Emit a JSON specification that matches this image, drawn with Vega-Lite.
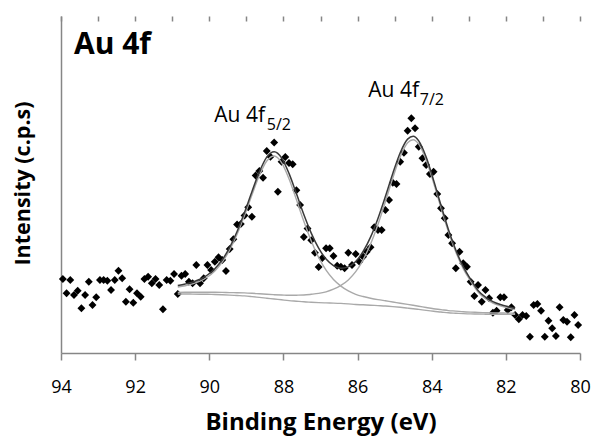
{
  "$schema": "https://vega.github.io/schema/vega-lite/v6.json",
  "width": 519,
  "height": 337,
  "autosize": {"type": "none"},
  "padding": {"left": 61, "top": 16, "right": 12, "bottom": 84},
  "background": "white",
  "config": {"view": {"stroke": null}, "font": "Open Sans"},
  "datasets": {
    "pts": [
      {"E":93.95,"I":74},{"E":93.85,"I":59.7},{"E":93.75,"I":73},{"E":93.65,"I":58},{"E":93.55,"I":62.3},
      {"E":93.45,"I":44.7},{"E":93.35,"I":58},{"E":93.25,"I":71.3},{"E":93.15,"I":48},{"E":93.05,"I":55.7},
      {"E":92.95,"I":73},{"E":92.85,"I":73},{"E":92.75,"I":72.3},{"E":92.65,"I":63},{"E":92.55,"I":73},
      {"E":92.45,"I":82.3},{"E":92.35,"I":74.7},{"E":92.25,"I":51.3},{"E":92.15,"I":63.7},{"E":92.05,"I":50.3},
      {"E":91.95,"I":59.7},{"E":91.85,"I":56.3},{"E":91.75,"I":74},{"E":91.65,"I":76.3},{"E":91.55,"I":69.7},
      {"E":91.45,"I":74},{"E":91.35,"I":68},{"E":91.25,"I":43.7},{"E":91.15,"I":73},{"E":91.05,"I":72.3},
      {"E":90.95,"I":79},{"E":90.85,"I":59},{"E":90.75,"I":77.3},{"E":90.65,"I":79},{"E":90.55,"I":71.3},
      {"E":90.45,"I":69.7},{"E":90.35,"I":88},{"E":90.25,"I":69.7},{"E":90.15,"I":74.7},{"E":90.05,"I":88},
      {"E":89.95,"I":83},{"E":89.85,"I":91.3},{"E":89.75,"I":95.7},{"E":89.65,"I":93},{"E":89.55,"I":82},
      {"E":89.45,"I":104},{"E":89.35,"I":113.7},{"E":89.25,"I":128.5},{"E":89.15,"I":129},{"E":89.05,"I":137.5},
      {"E":88.95,"I":145.7},{"E":88.85,"I":136.3},{"E":88.75,"I":177.5},{"E":88.65,"I":182},{"E":88.55,"I":175.3},
      {"E":88.45,"I":202},{"E":88.35,"I":196.3},{"E":88.25,"I":210.5},{"E":88.15,"I":161.3},{"E":88.05,"I":191.3},
      {"E":87.95,"I":196},{"E":87.85,"I":190},{"E":87.75,"I":188.7},{"E":87.65,"I":162.7},{"E":87.55,"I":148},
      {"E":87.45,"I":116},{"E":87.35,"I":124.5},{"E":87.25,"I":112.7},{"E":87.15,"I":100.3},{"E":87.05,"I":86},
      {"E":86.95,"I":95},{"E":86.85,"I":104.7},{"E":86.75,"I":104.7},{"E":86.65,"I":97},{"E":86.55,"I":87.3},
      {"E":86.45,"I":86.3},{"E":86.35,"I":84.7},{"E":86.25,"I":100.3},{"E":86.15,"I":88},{"E":86.05,"I":99},
      {"E":85.95,"I":91.3},{"E":85.85,"I":96.3},{"E":85.75,"I":101.3},{"E":85.65,"I":105.7},{"E":85.55,"I":125.7},
      {"E":85.45,"I":123},{"E":85.35,"I":123},{"E":85.25,"I":143},{"E":85.15,"I":153},{"E":85.05,"I":170.3},
      {"E":84.95,"I":169},{"E":84.85,"I":191.3},{"E":84.75,"I":200.3},{"E":84.65,"I":222.3},{"E":84.55,"I":234.7},
      {"E":84.45,"I":224.7},{"E":84.35,"I":206.3},{"E":84.25,"I":194.7},{"E":84.15,"I":188},{"E":84.05,"I":179},
      {"E":83.95,"I":181.3},{"E":83.85,"I":159},{"E":83.75,"I":144.7},{"E":83.65,"I":134.7},{"E":83.55,"I":118},
      {"E":83.45,"I":109.7},{"E":83.35,"I":84.7},{"E":83.25,"I":101.3},{"E":83.15,"I":89.7},{"E":83.05,"I":86.3},
      {"E":82.95,"I":71.3},{"E":82.85,"I":57},{"E":82.75,"I":68},{"E":82.65,"I":51.3},{"E":82.55,"I":63},
      {"E":82.45,"I":54.7},{"E":82.35,"I":40.3},{"E":82.25,"I":42.3},{"E":82.15,"I":55.7},{"E":82.05,"I":55.7},
      {"E":81.95,"I":43},{"E":81.85,"I":45.7},{"E":81.75,"I":38},{"E":81.65,"I":33.7},{"E":81.55,"I":38},
      {"E":81.45,"I":37},{"E":81.35,"I":16.3},{"E":81.25,"I":48},{"E":81.15,"I":49},{"E":81.05,"I":42.3},
      {"E":80.95,"I":16.3},{"E":80.85,"I":32.3},{"E":80.75,"I":24.7},{"E":80.65,"I":17},{"E":80.55,"I":45.7},
      {"E":80.45,"I":33},{"E":80.35,"I":31.3},{"E":80.25,"I":15.7},{"E":80.15,"I":38},{"E":80.05,"I":28}
    ],
    "fit": [
      {"E":90.85,"bg":59.0,"c1":66.0,"c2":60.6,"env":67.5},
      {"E":90.65,"bg":59.0,"c1":67.3,"c2":60.7,"env":69.0},
      {"E":90.45,"bg":58.9,"c1":69.1,"c2":60.7,"env":70.9},
      {"E":90.25,"bg":58.8,"c1":71.8,"c2":60.7,"env":73.7},
      {"E":90.05,"bg":58.7,"c1":76.0,"c2":60.7,"env":78.0},
      {"E":89.85,"bg":58.5,"c1":82.1,"c2":60.7,"env":84.3},
      {"E":89.65,"bg":58.2,"c1":90.9,"c2":60.6,"env":93.2},
      {"E":89.45,"bg":57.9,"c1":103.1,"c2":60.4,"env":105.6},
      {"E":89.25,"bg":57.5,"c1":118.7,"c2":60.3,"env":121.5},
      {"E":89.05,"bg":57.1,"c1":137.6,"c2":60.1,"env":140.6},
      {"E":88.85,"bg":56.4,"c1":158.0,"c2":59.7,"env":161.3},
      {"E":88.65,"bg":55.6,"c1":177.5,"c2":59.2,"env":181.1},
      {"E":88.45,"bg":54.8,"c1":192.0,"c2":58.7,"env":195.9},
      {"E":88.25,"bg":54.0,"c1":197.0,"c2":58.3,"env":201.3},
      {"E":88.05,"bg":53.2,"c1":190.4,"c2":58.0,"env":195.2},
      {"E":87.85,"bg":52.4,"c1":174.3,"c2":57.7,"env":179.6},
      {"E":87.65,"bg":51.8,"c1":153.4,"c2":57.8,"env":159.4},
      {"E":87.45,"bg":51.2,"c1":131.7,"c2":58.0,"env":138.5},
      {"E":87.25,"bg":50.8,"c1":112.0,"c2":58.7,"env":119.9},
      {"E":87.05,"bg":50.4,"c1":95.6,"c2":59.6,"env":104.8},
      {"E":86.85,"bg":50.1,"c1":82.8,"c2":61.2,"env":93.9},
      {"E":86.65,"bg":49.9,"c1":73.5,"c2":63.8,"env":87.4},
      {"E":86.45,"bg":49.6,"c1":66.9,"c2":67.6,"env":84.8},
      {"E":86.25,"bg":49.1,"c1":62.1,"c2":73.1,"env":86.1},
      {"E":86.05,"bg":48.5,"c1":58.7,"c2":81.3,"env":91.5},
      {"E":85.85,"bg":48.2,"c1":56.5,"c2":93.2,"env":101.5},
      {"E":85.65,"bg":47.8,"c1":54.8,"c2":109.0,"env":115.9},
      {"E":85.45,"bg":47.4,"c1":53.4,"c2":128.6,"env":134.6},
      {"E":85.25,"bg":47.0,"c1":52.2,"c2":151.3,"env":156.5},
      {"E":85.05,"bg":46.4,"c1":51.0,"c2":175.0,"env":179.6},
      {"E":84.85,"bg":45.7,"c1":49.8,"c2":196.2,"env":200.3},
      {"E":84.65,"bg":44.9,"c1":48.6,"c2":210.2,"env":213.9},
      {"E":84.5,"bg":44.3,"c1":47.7,"c2":213.3,"env":216.7},
      {"E":84.35,"bg":43.6,"c1":46.8,"c2":208.9,"env":212.1},
      {"E":84.15,"bg":42.6,"c1":45.5,"c2":193.1,"env":196.0},
      {"E":83.95,"bg":41.7,"c1":44.3,"c2":170.3,"env":172.9},
      {"E":83.75,"bg":41.0,"c1":43.4,"c2":145.3,"env":147.7},
      {"E":83.55,"bg":40.2,"c1":42.4,"c2":121.4,"env":123.6},
      {"E":83.35,"bg":39.8,"c1":41.9,"c2":101.0,"env":103.0},
      {"E":83.15,"bg":39.4,"c1":41.3,"c2":84.4,"env":86.3},
      {"E":82.95,"bg":39.1,"c1":40.9,"c2":71.9,"env":73.7},
      {"E":82.75,"bg":39.0,"c1":40.6,"c2":61.0,"env":62.6},
      {"E":82.55,"bg":38.8,"c1":40.3,"c2":54.3,"env":55.8},
      {"E":82.35,"bg":38.7,"c1":40.1,"c2":50.0,"env":51.4},
      {"E":82.15,"bg":38.7,"c1":40.0,"c2":47.2,"env":48.5},
      {"E":81.95,"bg":38.6,"c1":39.9,"c2":45.1,"env":46.4},
      {"E":81.75,"bg":38.6,"c1":39.8,"c2":43.6,"env":44.8}
    ],
    "ann": [
      {"E":93.65,"I":299,"text":"Au 4f","kind":"title"},
      {"E":89.865,"I":230.7,"text":"Au 4f","kind":"main"},
      {"E":88.45,"I":223.5,"text":"5/2","kind":"sub"},
      {"E":85.71,"I":256.3,"text":"Au 4f","kind":"main"},
      {"E":84.32,"I":248.5,"text":"7/2","kind":"sub"}
    ]
  },
  "resolve": {"axis": {"x": "independent", "y": "independent"}},
  "layer": [
    {
      "data": {"name": "pts"},
      "mark": {"type": "point", "shape": "diamond", "filled": true, "size": 62, "color": "black", "opacity": 1, "strokeWidth": 0},
      "encoding": {
        "x": {"field": "E", "type": "quantitative",
              "scale": {"domain": [80, 94], "reverse": true, "nice": false, "zero": false},
              "axis": {"values": [94, 92, 90, 88, 86, 84, 82, 80], "grid": false, "domainColor": "#868686", "domainWidth": 1.5,
                       "tickColor": "#868686", "tickWidth": 1.5, "tickSize": 7, "labelFont": "Open Sans", "labelFontSize": 18,
                       "labelColor": "black", "labelBaseline": "alphabetic", "labelPadding": 32, "labelFlush": false, "labelOverlap": false,
                       "title": "Binding Energy (eV)", "titleFont": "Open Sans", "titleFontSize": 24, "titleFontWeight": "bold",
                       "titleColor": "black", "titleBaseline": "alphabetic", "titleX": 259.5, "titleY": 76, "titleAlign": "center"}},
        "y": {"field": "I", "type": "quantitative",
              "scale": {"domain": [0, 337], "nice": false, "zero": true},
              "axis": {"grid": false, "ticks": false, "labels": false, "domainColor": "#868686", "domainWidth": 1.5,
                       "title": "Intensity (c.p.s)", "titleFont": "Open Sans", "titleFontSize": 21.5, "titleFontWeight": "bold",
                       "titleColor": "black", "titleAngle": -90, "titleBaseline": "alphabetic", "titleAlign": "center",
                       "titleX": -32, "titleY": 167}}
      }
    },
    {
      "data": {"name": "fit"},
      "mark": {"type": "line", "color": "#a9a9a9", "strokeWidth": 1.4, "interpolate": "monotone"},
      "encoding": {
        "x": {"field": "E", "type": "quantitative",
              "axis": {"values": [94, 93, 92, 91, 90, 89, 88, 87, 86, 85, 84, 83, 82, 81, 80], "grid": false, "domain": false, "labels": false,
                       "tickColor": "#868686", "tickWidth": 1.5, "tickSize": -5, "title": null}},
        "y": {"field": "bg", "type": "quantitative", "axis": null}
      }
    },
    {
      "data": {"name": "fit"},
      "mark": {"type": "line", "color": "#a9a9a9", "strokeWidth": 1.4, "interpolate": "monotone"},
      "encoding": {
        "x": {"field": "E", "type": "quantitative", "axis": null},
        "y": {"field": "c1", "type": "quantitative", "axis": null}
      }
    },
    {
      "data": {"name": "fit"},
      "mark": {"type": "line", "color": "#a9a9a9", "strokeWidth": 1.4, "interpolate": "monotone"},
      "encoding": {
        "x": {"field": "E", "type": "quantitative", "axis": null},
        "y": {"field": "c2", "type": "quantitative", "axis": null}
      }
    },
    {
      "data": {"name": "fit"},
      "mark": {"type": "line", "color": "#3a3a3a", "strokeWidth": 1.5, "interpolate": "monotone"},
      "encoding": {
        "x": {"field": "E", "type": "quantitative", "axis": null},
        "y": {"field": "env", "type": "quantitative", "axis": null}
      }
    },
    {
      "data": {"name": "ann"},
      "transform": [{"filter": "datum.kind === 'title'"}],
      "mark": {"type": "text", "align": "left", "baseline": "alphabetic", "font": "Open Sans", "fontSize": 30, "fontWeight": "bold", "color": "black"},
      "encoding": {
        "x": {"field": "E", "type": "quantitative", "axis": null},
        "y": {"field": "I", "type": "quantitative", "axis": null},
        "text": {"field": "text"}
      }
    },
    {
      "data": {"name": "ann"},
      "transform": [{"filter": "datum.kind === 'main'"}],
      "mark": {"type": "text", "align": "left", "baseline": "alphabetic", "font": "Open Sans", "fontSize": 21, "color": "black"},
      "encoding": {
        "x": {"field": "E", "type": "quantitative", "axis": null},
        "y": {"field": "I", "type": "quantitative", "axis": null},
        "text": {"field": "text"}
      }
    },
    {
      "data": {"name": "ann"},
      "transform": [{"filter": "datum.kind === 'sub'"}],
      "mark": {"type": "text", "align": "left", "baseline": "alphabetic", "font": "Open Sans", "fontSize": 16, "color": "black"},
      "encoding": {
        "x": {"field": "E", "type": "quantitative", "axis": null},
        "y": {"field": "I", "type": "quantitative", "axis": null},
        "text": {"field": "text"}
      }
    }
  ]
}
